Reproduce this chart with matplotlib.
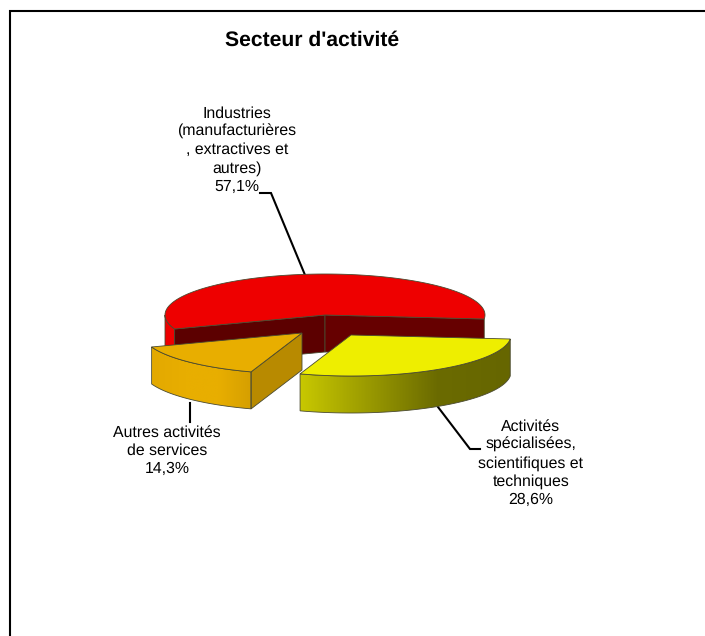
import numpy as np
import matplotlib
matplotlib.use("Agg")
import matplotlib.pyplot as plt
from matplotlib.colors import LinearSegmentedColormap
from matplotlib.patches import Polygon

plt.rcParams['font.family'] = ['Liberation Sans', 'DejaVu Sans']
plt.rcParams['text.hinting'] = 'none'

title = "Secteur d'activité"
categories = ["Industries\n(manufacturières\n, extractives et\nautres)",
              "Activités\nspécialisées,\nscientifiques et\ntechniques",
              "Autres activités\nde services"]
values = [57.1, 28.6, 14.3]

W, H = 705, 636
CX, CY = 325, 315  # centre of the pie top
RX, RY = 160, 41
THICK = 37
EDGE = '#4a4a30'


def arc(cx, cy, t0, t1, n=120):
	t = np.radians(np.linspace(t0, t1, n))
	return np.column_stack([cx + RX * np.cos(t), cy + RY * np.sin(t)])


def top_face(ax, cx, cy, t0, t1, color, z):
	pts = np.vstack([[cx, cy], arc(cx, cy, t0, t1)])
	ax.add_patch(Polygon(pts, closed=True, fc=color, ec=EDGE, lw=0.6, zorder=z))


def side_poly(upper):
	lower = upper[::-1] + [0, THICK]
	return np.vstack([upper, lower])


def rim(ax, cx, cy, t0, t1, stops, z):
	# front wall of a slice, shaded left to right
	pts = side_poly(arc(cx, cy, t0, t1))
	poly = Polygon(pts, closed=True, fc='none', ec='none', zorder=z)
	ax.add_patch(poly)
	cmap = LinearSegmentedColormap.from_list("rim", stops)
	x0, x1 = pts[:, 0].min(), pts[:, 0].max()
	y0, y1 = pts[:, 1].min(), pts[:, 1].max()
	im = ax.imshow(np.linspace(0, 1, 256).reshape(1, -1), cmap=cmap, aspect='auto',
				   extent=(x0, x1, y1, y0), zorder=z, interpolation='bilinear')
	im.set_clip_path(poly)
	ax.add_patch(Polygon(pts, closed=True, fc='none', ec=EDGE, lw=0.6, zorder=z + 0.1))


def inner_wall(ax, cx, cy, t, color, z):
	p = arc(cx, cy, t, t, 1)[0]
	pts = side_poly(np.array([[cx, cy], p]))
	ax.add_patch(Polygon(pts, closed=True, fc=color, ec=EDGE, lw=0.6, zorder=z))


fig = plt.figure(figsize=(W / 100, H / 100), dpi=100)
ax = fig.add_axes([0, 0, 1, 1])

# slice angles, clockwise on screen from the red/yellow cut
spans = np.array(values) / sum(values) * 360
cut = 5.6
yellow0, yellow1 = cut, cut + spans[1]
orange0, orange1 = yellow1, yellow1 + spans[2]

# red slice
rim(ax, CX, CY, orange1, 180, ['#ee0000', '#ee0000'], 1)
inner_wall(ax, CX, CY, orange1, '#5c0000', 2)
inner_wall(ax, CX, CY, cut, '#660000', 2)
top_face(ax, CX, CY, orange1, cut + 360, '#ee0000', 3)

# orange slice, pulled out
ox, oy = CX - 23, CY + 18
rim(ax, ox, oy, orange0, orange1,
	['#e3a900', '#e8ae00', '#e8ae00', '#d59f00'], 5)
inner_wall(ax, ox, oy, orange0, '#b88a00', 5)
top_face(ax, ox, oy, orange0, orange1, '#e8ae00', 6)

# yellow slice, pulled out
yx, yy = CX + 26, CY + 20
rim(ax, yx, yy, yellow0, yellow1,
	[(0, '#c8c800'), (0.65, '#6b6b00'), (1, '#666600')], 7)
top_face(ax, yx, yy, yellow0, yellow1, '#eeee00', 8)

# leader lines
ax.plot([260, 271, 305], [193, 193, 275], color='k', lw=1.5, zorder=0.5, solid_joinstyle='miter')
ax.plot([438, 470, 480], [407, 449, 449], color='k', lw=1.5, zorder=0.5, solid_joinstyle='miter')
ax.plot([190, 190], [403, 422], color='k', lw=1.5, zorder=0.5)

# labels
label_pos = [(237, 150), (531, 463), (167, 451)]
for name, val, (lx, ly) in zip(categories, values, label_pos):
	txt = name + "\n" + ("%.1f%%" % val).replace(".", ",")
	ax.text(lx, ly, txt, ha='center', va='center', ma='center',
			fontsize=11.4, linespacing=1.28, color='k', zorder=10)

ax.text(312, 40, title, ha='center', va='center', fontsize=15.2,
		fontweight='bold', color='k')

# frame, only top and left
ax.plot([10, 10, W], [H, 11, 11], color='k', lw=1.5, solid_joinstyle='miter',
		solid_capstyle='butt', zorder=11)

ax.set_xlim(0, W)
ax.set_ylim(H, 0)
ax.axis('off')
fig.savefig("out.png", dpi=100, facecolor='white')
